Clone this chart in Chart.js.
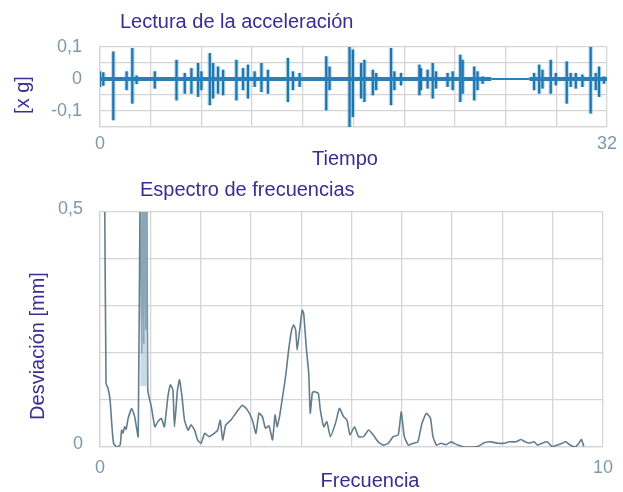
<!DOCTYPE html>
<html lang="es">
<head>
<meta charset="utf-8">
<title>Lectura de la acceleración - Espectro de frecuencias</title>
<script src="https://cdn.jsdelivr.net/npm/chart.js@4.4.1/dist/chart.umd.min.js"></script>
<style>
    html, body { margin: 0; padding: 0; background: #fff; }
    body {
        position: relative;
        width: 623px;
        height: 492px;
        overflow: hidden;
        font-family: "Liberation Sans", Arial, sans-serif;
    }
    canvas { position: absolute; left: 0; }
    #accelChart { top: 0; }
    #spectrumChart { top: 175px; }
    .label {
        position: absolute;
        color: #3b2d8f;
        font-size: 20px;
        line-height: 24px;
        white-space: nowrap;
    }
    .centered { transform: translateX(-50%); }
    .rotated { transform: translate(-50%, -50%) rotate(-90deg); }
</style>
</head>
<body>
<canvas id="accelChart" width="623" height="175"></canvas>
<canvas id="spectrumChart" width="623" height="317"></canvas>

<div class="label" style="left:120px; top:9px;">Lectura de la acceleración</div>
<div class="label centered" style="left:345px; top:146px;">Tiempo</div>
<div class="label rotated" style="left:22px; top:95px;">[x g]</div>

<div class="label" style="left:140px; top:177px;">Espectro de frecuencias</div>
<div class="label centered" style="left:370px; top:468px;">Frecuencia</div>
<div class="label rotated" style="left:37px; top:346px;">Desviación [mm]</div>

<script>
// Acceleration reading: burst time [s], peak and trough [x g]
const accelTime = [
    0.00, 0.21, 0.84, 1.68, 2.04, 2.31, 3.46, 4.83, 5.35, 5.77,
    6.19, 6.40, 6.93, 7.14, 7.45, 7.77, 8.61, 9.03, 9.34, 9.76,
    10.19, 10.60, 11.86, 12.18, 12.60, 14.28, 14.49, 15.75, 15.96, 16.48,
    16.69, 17.22, 17.43, 18.37, 18.58, 19.00, 20.16, 20.26, 20.68, 21.00,
    21.21, 21.94, 22.26, 22.74, 22.89, 23.62, 23.83, 24.15, 27.40, 27.72,
    27.93, 28.45, 28.77, 29.46, 29.71, 30.03, 30.45, 30.97, 31.29, 31.50,
    31.81
];
const accelPeak = [
    0.023, 0.020, 0.085, 0.023, 0.096, 0.010, 0.023, 0.059, 0.018, 0.033,
    0.049, 0.023, 0.080, 0.049, 0.038, 0.028, 0.059, 0.033, 0.044, 0.023,
    0.049, 0.028, 0.065, 0.023, 0.018, 0.070, 0.038, 0.101, 0.091, 0.049,
    0.059, 0.028, 0.018, 0.096, 0.023, 0.018, 0.044, 0.033, 0.028, 0.049,
    0.023, 0.018, 0.023, 0.075, 0.059, 0.038, 0.023, 0.007, 0.018, 0.044,
    0.028, 0.059, 0.018, 0.054, 0.018, 0.018, 0.013, 0.101, 0.018, 0.038,
    0.007
];
const accelTrough = [
    -0.024, -0.020, -0.128, -0.034, -0.076, -0.015, -0.029, -0.066, -0.045, -0.045,
    -0.055, -0.034, -0.081, -0.060, -0.045, -0.050, -0.066, -0.034, -0.060, -0.024,
    -0.040, -0.045, -0.071, -0.034, -0.024, -0.097, -0.034, -0.154, -0.118, -0.060,
    -0.071, -0.050, -0.034, -0.081, -0.034, -0.019, -0.050, -0.034, -0.029, -0.060,
    -0.029, -0.024, -0.034, -0.071, -0.045, -0.066, -0.034, -0.014, -0.034, -0.045,
    -0.029, -0.045, -0.019, -0.076, -0.024, -0.029, -0.024, -0.107, -0.034, -0.055,
    -0.014
];
// Noise floor between bursts
const baseTime = [0, 24.7, 27.1, 32];
const baseValue = [0, 0, 0, 0];

// Frequency spectrum
const specFreq = [
    0.09, 0.12, 0.16, 0.20, 0.24, 0.27, 0.33, 0.40, 0.43, 0.46,
    0.49, 0.52, 0.56, 0.63, 0.69, 0.76, 0.80, 0.83, 0.85, 0.87,
    0.89, 0.91, 0.93, 0.95, 1.02, 1.09, 1.15, 1.22, 1.28, 1.35,
    1.40, 1.45, 1.48, 1.54, 1.58, 1.63, 1.68, 1.75, 1.81, 1.88,
    1.94, 2.01, 2.08, 2.17, 2.27, 2.34, 2.39, 2.44, 2.50, 2.60,
    2.70, 2.83, 2.93, 3.03, 3.10, 3.16, 3.23, 3.29, 3.36, 3.43,
    3.48, 3.52, 3.57, 3.62, 3.69, 3.75, 3.81, 3.85, 3.89, 3.92,
    3.97, 4.02, 4.05, 4.10, 4.15, 4.18, 4.22, 4.25, 4.34, 4.38,
    4.45, 4.51, 4.58, 4.68, 4.76, 4.84, 4.91, 4.97, 5.06, 5.14,
    5.24, 5.34, 5.43, 5.53, 5.63, 5.73, 5.83, 5.93, 5.99, 6.05,
    6.13, 6.23, 6.32, 6.40, 6.49, 6.57, 6.62, 6.69, 6.78, 6.88,
    6.98, 7.11, 7.25, 7.38, 7.51, 7.64, 7.77, 7.91, 8.04, 8.14,
    8.27, 8.37, 8.45, 8.53, 8.63, 8.70, 8.79, 8.89, 8.99, 9.09,
    9.19, 9.26, 9.35, 9.45, 9.52, 9.57, 9.62
];
const specDev = [
    0.60, 0.135, 0.125, 0.100, 0.040, 0.008, 0.000, 0.004, 0.036, 0.030,
    0.043, 0.038, 0.061, 0.082, 0.064, 0.022, 0.60, 0.20, 0.60, 0.22,
    0.60, 0.25, 0.60, 0.121, 0.086, 0.043, 0.054, 0.061, 0.043, 0.107,
    0.132, 0.121, 0.043, 0.121, 0.143, 0.107, 0.057, 0.036, 0.047, 0.036,
    0.015, 0.008, 0.029, 0.022, 0.029, 0.036, 0.057, 0.015, 0.047, 0.057,
    0.072, 0.089, 0.079, 0.057, 0.029, 0.072, 0.064, 0.040, 0.045, 0.015,
    0.068, 0.043, 0.065, 0.100, 0.150, 0.206, 0.249, 0.260, 0.249, 0.206,
    0.249, 0.291, 0.284, 0.213, 0.157, 0.072, 0.114, 0.118, 0.114, 0.079,
    0.043, 0.054, 0.022, 0.050, 0.082, 0.065, 0.057, 0.026, 0.043, 0.022,
    0.022, 0.036, 0.026, 0.011, 0.004, 0.008, 0.022, 0.026, 0.075, 0.022,
    0.004, 0.008, 0.011, 0.050, 0.072, 0.061, 0.022, 0.004, 0.008, 0.005,
    0.011, 0.004, 0.000, 0.000, 0.001, 0.009, 0.011, 0.008, 0.008, 0.011,
    0.011, 0.016, 0.011, 0.008, 0.011, 0.004, 0.008, 0.011, 0.001, 0.004,
    0.008, 0.011, 0.004, 0.000, 0.008, 0.016, 0.001
];
// Saturated band around the first resonance
const bandFreq = [0.80, 0.95];
const bandDev = [0.5, 0.5];

// Tick labels (only a few ticks are labelled)
const accelYTicks = [0.1, 0, -0.1];
const accelYLabels = ['0,1', '0', '-0,1'];
const timeTicks = [0, 32];
const timeLabels = ['0', '32'];
const specYTicks = [0.5, 0];
const specYLabels = ['0,5', '0'];
const freqTicks = [0, 10];
const freqLabels = ['0', '10'];

// Styling
const GRID_COLOR = '#d5d5d5';
const TICK_COLOR = '#7f98aa';
const TICK_FONT = { family: '"Liberation Sans", Arial, sans-serif', size: 18 };

/**
 * Return a tick callback that labels only the listed values
 */
function pickLabel(values, labels) {
    return function (value) {
        const i = values.findIndex(v => Math.abs(v - value) < 1e-6);
        return i >= 0 ? labels[i] : '';
    };
}

/**
 * Shared grid / border settings for every axis
 */
function axisGrid() {
    return {
        grid: { color: GRID_COLOR, lineWidth: 1.3, drawTicks: false, offset: false },
        border: { color: GRID_COLOR, width: 1.3 }
    };
}

/**
 * Top chart: acceleration bursts as floating bars on a time axis
 */
function createAccelChart() {
    const bursts = accelTime.map((t, i) => ({ x: t, y: [accelTrough[i], accelPeak[i]] }));
    const floor = baseTime.map((t, i) => ({ x: t, y: baseValue[i] }));

    return new Chart(document.getElementById('accelChart'), {
        type: 'bar',
        data: {
            datasets: [
                {
                    type: 'line',
                    data: floor,
                    borderColor: '#2a80b6',
                    pointRadius: 0,
                    segment: {
                        borderWidth: ctx => (ctx.p0.parsed.x >= 24.7 && ctx.p1.parsed.x <= 27.1) ? 2 : 4
                    },
                    order: 1
                },
                {
                    data: bursts,
                    backgroundColor: 'rgba(100, 175, 218, 0.4)',
                    barThickness: 4,
                    grouped: false,
                    order: 3
                },
                {
                    data: bursts,
                    backgroundColor: '#1f74ab',
                    barThickness: 1.6,
                    grouped: false,
                    order: 2
                }
            ]
        },
        options: {
            responsive: false,
            animation: false,
            events: [],
            layout: { padding: { left: 0, right: 15, top: 47, bottom: 18 } },
            plugins: { legend: { display: false }, tooltip: { enabled: false } },
            scales: {
                x: {
                    type: 'linear',
                    offset: false,
                    min: 0,
                    max: 32,
                    ...axisGrid(),
                    ticks: {
                        stepSize: 3.2,
                        autoSkip: false,
                        maxRotation: 0,
                        padding: 6,
                        color: TICK_COLOR,
                        font: TICK_FONT,
                        callback: pickLabel(timeTicks, timeLabels)
                    },
                    afterFit: scale => { scale.height = 30; }
                },
                y: {
                    min: -0.15,
                    max: 0.1,
                    ...axisGrid(),
                    ticks: {
                        stepSize: 0.05,
                        autoSkip: false,
                        padding: 18,
                        color: TICK_COLOR,
                        font: TICK_FONT,
                        callback: pickLabel(accelYTicks, accelYLabels)
                    },
                    afterFit: scale => { scale.width = 100; }
                }
            }
        }
    });
}

/**
 * Bottom chart: deviation spectrum as a thin line
 */
function createSpectrumChart() {
    const spectrum = specFreq.map((f, i) => ({ x: f, y: specDev[i] }));
    const band = bandFreq.map((f, i) => ({ x: f, y: bandDev[i] }));

    return new Chart(document.getElementById('spectrumChart'), {
        type: 'line',
        data: {
            datasets: [
                {
                    data: band,
                    borderWidth: 0,
                    pointRadius: 0,
                    backgroundColor: 'rgba(165, 195, 212, 0.6)',
                    fill: { value: 0.13 }
                },
                {
                    data: spectrum,
                    borderColor: '#627d8e',
                    borderWidth: 1.6,
                    pointRadius: 0,
                    tension: 0.15,
                    fill: false
                }
            ]
        },
        options: {
            responsive: false,
            animation: false,
            events: [],
            layout: { padding: { left: 0, right: 17, top: 37, bottom: 15 } },
            plugins: { legend: { display: false }, tooltip: { enabled: false } },
            scales: {
                x: {
                    type: 'linear',
                    min: 0,
                    max: 10,
                    ...axisGrid(),
                    ticks: {
                        stepSize: 1,
                        autoSkip: false,
                        maxRotation: 0,
                        padding: 10,
                        color: TICK_COLOR,
                        font: TICK_FONT,
                        callback: pickLabel(freqTicks, freqLabels)
                    },
                    afterFit: scale => { scale.height = 30; }
                },
                y: {
                    min: 0,
                    max: 0.5,
                    ...axisGrid(),
                    ticks: {
                        stepSize: 0.1,
                        autoSkip: false,
                        padding: 17,
                        labelOffset: -3,
                        color: TICK_COLOR,
                        font: TICK_FONT,
                        callback: pickLabel(specYTicks, specYLabels)
                    },
                    afterFit: scale => { scale.width = 100; }
                }
            }
        }
    });
}

document.addEventListener('DOMContentLoaded', () => {
    createAccelChart();
    createSpectrumChart();
});
</script>
</body>
</html>
